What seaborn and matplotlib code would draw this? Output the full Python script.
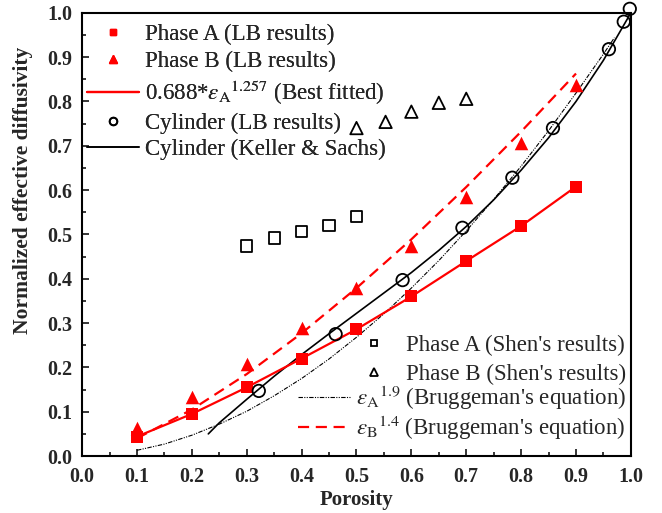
import numpy as np
import pandas as pd
import matplotlib
matplotlib.use("Agg")
import matplotlib.pyplot as plt
import seaborn as sns
from matplotlib.legend import Legend
from matplotlib.lines import Line2D

# ---------------- data ----------------
porosity = [0.1, 0.2, 0.3, 0.4, 0.5, 0.6, 0.7, 0.8, 0.9]
phaseA_lb = [0.044, 0.095, 0.155, 0.220, 0.286, 0.360, 0.440, 0.519, 0.608]
phaseB_lb = [0.063, 0.134, 0.207, 0.290, 0.380, 0.473, 0.585, 0.706, 0.838]

cyl_x = [0.322, 0.462, 0.584, 0.693, 0.784, 0.858, 0.960, 0.987, 0.998]
cyl_y = [0.147, 0.275, 0.397, 0.515, 0.628, 0.740, 0.918, 0.980, 1.009]

keller_x = [0.230, 0.25, 0.30, 0.35, 0.40, 0.45, 0.50, 0.55, 0.60, 0.65, 0.70, 0.75, 0.80, 0.85, 0.90, 0.95, 1.00]
keller_y = [0.050, 0.075, 0.128, 0.180, 0.229, 0.276, 0.322, 0.368, 0.414, 0.464, 0.518, 0.578, 0.645, 0.718, 0.800, 0.893, 1.000]

shenA_x = [0.30, 0.35, 0.40, 0.45, 0.50]
shenA_y = [0.474, 0.492, 0.507, 0.521, 0.541]
shenB_x = [0.50, 0.553, 0.60, 0.65, 0.70]
shenB_y = [0.740, 0.754, 0.777, 0.797, 0.806]

brugA_x = [0.10, 0.15, 0.20, 0.25, 0.30, 0.35, 0.40, 0.45, 0.50, 0.55, 0.60, 0.65, 0.70, 0.75, 0.80, 0.85, 0.90, 0.95, 0.97]
brugA_y = [0.013, 0.027, 0.047, 0.072, 0.101, 0.136, 0.175, 0.219, 0.268, 0.321, 0.379, 0.441, 0.508, 0.579, 0.654, 0.734, 0.819, 0.907, 0.944]
brugB_x = [0.10, 0.20, 0.30, 0.40, 0.50, 0.60, 0.70, 0.80, 0.90]
brugB_y = [0.040, 0.105, 0.185, 0.277, 0.379, 0.489, 0.607, 0.732, 0.863]

x_ticks = [0.0, 0.1, 0.2, 0.3, 0.4, 0.5, 0.6, 0.7, 0.8, 0.9, 1.0]
y_ticks = [0.0, 0.1, 0.2, 0.3, 0.4, 0.5, 0.6, 0.7, 0.8, 0.9, 1.0]

# ---------------- style ----------------
sns.set_theme(style="ticks")
plt.rcParams["font.family"] = ["Liberation Serif", "DejaVu Serif"]
plt.rcParams["mathtext.fontset"] = "stix"
plt.rcParams["axes.linewidth"] = 1.5

RED = "#ff0000"
DASHDOT = (0, (4, 1.2, 1, 1.2, 1, 1.2))
DASH = (0, (5, 3))
LFS = 16.5

fig = plt.figure(figsize=(6.62, 5.13), dpi=100)
ax = fig.add_axes([0.124, 0.111, 0.829, 0.864])

# lines
sns.lineplot(x=brugA_x, y=brugA_y, ax=ax, color="black", lw=0.8,
             linestyle=DASHDOT, sort=False, estimator=None)
sns.lineplot(x=brugB_x, y=brugB_y, ax=ax, color=RED, lw=1.6,
             linestyle=DASH, sort=False, estimator=None)
sns.lineplot(x=keller_x, y=keller_y, ax=ax, color="black", lw=1.2,
             sort=False, estimator=None)
sns.lineplot(x=porosity, y=phaseA_lb, ax=ax, color=RED, lw=1.6,
             sort=False, estimator=None)

# markers
sns.scatterplot(x=porosity, y=phaseA_lb, ax=ax, marker="s", color=RED,
                s=75, edgecolor=RED, linewidth=0, zorder=5)
sns.scatterplot(x=porosity, y=phaseB_lb, ax=ax, marker="^", color=RED,
                s=95, edgecolor=RED, linewidth=0, zorder=5)
sns.scatterplot(x=cyl_x, y=cyl_y, ax=ax, marker="o", facecolor="none",
                edgecolor="black", s=80, linewidth=1.3, zorder=5)
sns.scatterplot(x=shenA_x, y=shenA_y, ax=ax, marker="s", facecolor="none",
                edgecolor="black", s=65, linewidth=1.3, zorder=5)
sns.scatterplot(x=shenB_x, y=shenB_y, ax=ax, marker="^", facecolor="none",
                edgecolor="black", s=80, linewidth=1.3, zorder=5)
for c in ax.collections:
    c.set_clip_on(False)

ax.set_xlim(0, 1.0)
ax.set_ylim(0, 1.0)
ax.set_xticks(x_ticks)
ax.set_yticks(y_ticks)
ax.set_xticklabels([f"{v:.1f}" for v in x_ticks], fontweight="bold", fontsize=14.5)
ax.set_yticklabels([f"{v:.1f}" for v in y_ticks], fontweight="bold", fontsize=14.5)
ax.xaxis.set_minor_locator(matplotlib.ticker.MultipleLocator(0.05))
ax.yaxis.set_minor_locator(matplotlib.ticker.MultipleLocator(0.05))
ax.tick_params(which="both", direction="in", top=False, right=False, width=1.3)
ax.tick_params(which="major", length=5)
ax.tick_params(which="minor", length=3)
ax.tick_params(axis="x", which="major", pad=8)
ax.tick_params(axis="y", which="major", pad=7)
for s in ax.spines.values():
    s.set_visible(True)
    s.set_linewidth(1.5)
    s.set_color("black")
ax.set_xlabel("Porosity", fontweight="bold", fontsize=15, labelpad=2)
ax.set_ylabel("Normalized effective diffusivity", fontweight="bold", fontsize=15.5)
ax.yaxis.set_label_coords(-0.089, 0.60)

# ---------------- legends ----------------
h_sqA = Line2D([], [], marker="s", color=RED, ls="none", markersize=5)
h_triB = Line2D([], [], marker="^", color=RED, ls="none", markersize=6)
h_fit = Line2D([], [], color=RED, lw=1.6)
h_cyl = Line2D([], [], marker="o", mfc="none", mec="black", mew=1.3, ls="none", markersize=5.5)
h_kel = Line2D([], [], color="black", lw=1.2)
leg1 = ax.legend([h_sqA, h_triB, h_fit, h_cyl, h_kel],
                 ["Phase A (LB results)", "Phase B (LB results)",
                  r"0.688*${\varepsilon}_{\mathrm{A}}{}^{1.257}$ (Best fitted)",
                  "Cylinder (LB results)", "Cylinder (Keller & Sachs)"],
                 loc="upper left", bbox_to_anchor=(0.0, 0.985), frameon=False,
                 fontsize=LFS, handlelength=2.3, handletextpad=0.25,
                 labelspacing=0.25, borderaxespad=0.0, borderpad=0.2)
ax.add_artist(leg1)

h_shA = Line2D([], [], marker="s", mfc="none", mec="black", mew=1.3, ls="none", markersize=5)
h_shB = Line2D([], [], marker="^", mfc="none", mec="black", mew=1.3, ls="none", markersize=6)
leg2 = Legend(ax, [h_shA, h_shB], ["Phase A (Shen's results)", "Phase B (Shen's results)"],
              loc="lower right", bbox_to_anchor=(1.0, 0.15), frameon=False,
              fontsize=LFS, handlelength=1.0, handletextpad=0.9,
              labelspacing=0.32, borderaxespad=0.0, borderpad=0.2)
ax.add_artist(leg2)

h_bA = Line2D([], [], color="black", lw=0.8, ls=DASHDOT)
h_bB = Line2D([], [], color=RED, lw=1.6, ls=DASH)
leg3 = Legend(ax, [h_bA, h_bB],
              [r"${\varepsilon}_{\mathrm{A}}{}^{1.9}$ (Bruggeman's equation)",
               r"${\varepsilon}_{\mathrm{B}}{}^{1.4}$ (Bruggeman's equation)"],
              loc="lower right", bbox_to_anchor=(1.0, 0.022), frameon=False,
              fontsize=LFS, handlelength=2.35, handletextpad=0.2,
              labelspacing=0.08, borderaxespad=0.0, borderpad=0.2)
ax.add_artist(leg3)

fig.savefig("out.png", dpi=100)
